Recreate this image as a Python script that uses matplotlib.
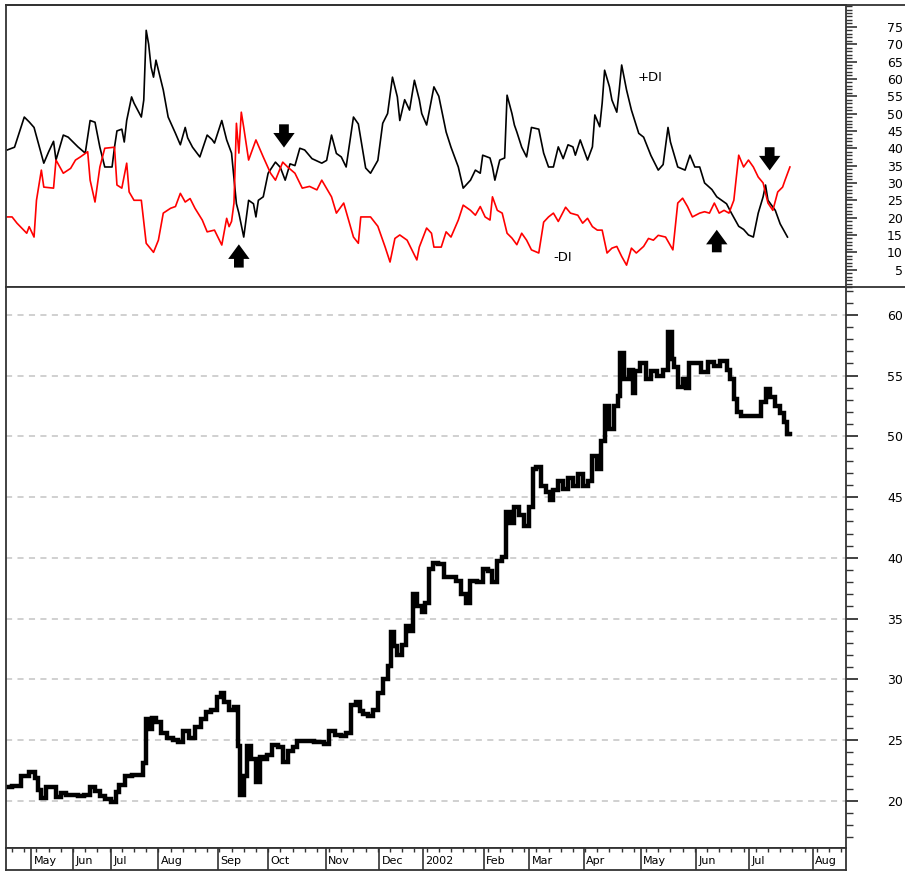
import numpy as np
from matplotlib import pyplot as plt
from matplotlib.lines import Line2D
from matplotlib.ticker import MultipleLocator

# 横轴单位：交易日序号（从图左边缘起）
pdi_t = [0, 3, 7, 9, 11, 15, 17, 19, 20, 23, 25, 29, 32, 34, 36, 38, 40, 43, 44, 45,
         47, 48, 49, 51, 52, 55, 56, 57, 58, 59, 60, 61, 62, 64, 66, 69, 71, 73, 74, 76,
         79, 82, 84, 85, 88, 90, 92, 94, 95, 97, 99, 101, 102, 103, 105, 107, 110, 112, 114, 116,
         118, 120, 122, 125, 129, 131, 133, 135, 137, 139, 142, 144, 147, 149, 152, 154, 156, 158, 160, 161,
         163, 165, 167, 169, 170, 172, 175, 177, 180, 182, 185, 187, 190, 192, 194, 195, 198, 199, 200, 202,
         204, 205, 207, 208, 209, 211, 213, 215, 218, 220, 222, 224, 226, 228, 230, 232, 233, 235, 238, 240,
         241, 243, 244, 245, 247, 248, 250, 251, 252, 254, 256, 259, 261, 264, 267, 269, 271, 272, 275, 278,
         280, 282, 284, 286, 289, 291, 295, 297, 300, 302, 304, 306, 308, 310, 311, 312, 315, 317, 320]
plus_di = [39.5, 40.3, 49, 47.6, 46, 35.7, 39, 42, 36.6, 43.8, 43.2, 40.4, 38.6, 48, 47.5, 40.3, 34.6, 34.6, 40.3, 45,
           45.5, 41.8, 48, 54.8, 53, 49, 53.9, 74, 70, 63.4, 60.5, 65.4, 62.5, 56.8, 49, 44.3, 41, 46, 43, 40.3,
           37.5, 43.8, 42.5, 41.5, 48, 42.4, 38.6, 24, 21.3, 14.4, 25, 24, 20.2, 25, 26, 32.8, 36, 34.5, 30.8, 35.5,
           35, 40, 39.5, 37, 35.7, 36.5, 43.8, 38.5, 37.5, 34.6, 49, 47, 34.3, 32.8, 36.5, 47.2, 50, 60.5, 54.8, 48,
           54, 51, 59.6, 54, 50, 46.7, 57.7, 55, 44.7, 40.3, 34.6, 28.5, 30.8, 33.7, 32.8, 38, 37.2, 34.6, 30.8, 36.6,
           37.2, 55.3, 50, 46.7, 44.7, 40.3, 37.5, 46, 45.5, 38.6, 34.6, 34.6, 40.4, 37, 41, 40.4, 38, 42.4, 36.6, 40.4,
           49.6, 46.2, 53, 62.5, 57.7, 53.9, 50.4, 56.8, 64, 56.8, 51, 44.3, 43.2, 37.9, 33.7, 35.3, 46, 41.8, 34.6, 33.7,
           38, 34.6, 34.6, 30, 28.1, 26, 24, 21.3, 17.5, 16.6, 15, 14.4, 21.3, 26, 29.4, 25, 22.1, 18.2, 14.4]

mdi_t = [0, 2, 4, 8, 9, 11, 12, 14, 15, 19, 20, 23, 26, 28, 30, 33, 34, 36, 38, 40,
         44, 45, 47, 49, 50, 52, 55, 57, 60, 62, 64, 67, 69, 71, 73, 75, 77, 80, 82, 85,
         88, 90, 91, 92, 93, 94, 95, 96, 97, 99, 102, 105, 108, 110, 113, 115, 118, 121, 124, 127,
         129, 133, 135, 138, 140, 142, 144, 145, 149, 152, 155, 157, 159, 161, 164, 168, 169, 172, 174, 175,
         178, 180, 182, 185, 187, 190, 192, 194, 196, 198, 199, 201, 203, 205, 207, 209, 211, 213, 215, 218,
         220, 222, 224, 226, 229, 231, 234, 236, 238, 240, 242, 244, 246, 248, 250, 252, 254, 256, 258, 261,
         263, 265, 267, 270, 273, 275, 277, 279, 281, 284, 286, 288, 290, 292, 294, 296, 298, 300, 302, 304,
         306, 308, 310, 312, 314, 316, 318, 319, 321]
minus_di = [20.2, 20.2, 18.4, 15.5, 17.4, 14.4, 25, 33.7, 28.8, 28.5, 36.6, 32.8, 34.2, 36.6, 37.5, 39, 30.8, 24.5, 34.6, 40,
            40.3, 29.4, 28.5, 35.7, 27.4, 25, 25, 12.6, 10, 13.5, 21.3, 22.7, 23.2, 27, 24.5, 25.5, 22.7, 19.3, 15.9, 16.4,
            12.1, 19.8, 17.4, 18.9, 24.2, 47.2, 38.6, 50.4, 46, 36.6, 42.4, 37.5, 32.8, 30.8, 36, 34.6, 32.8, 28.5, 29, 28,
            30.8, 26, 21.3, 24.2, 19.3, 14.4, 12.6, 20.2, 20.2, 17.5, 11.5, 7.2, 14, 15, 13.5, 7.8, 11.5, 17, 15.5, 11.5,
            11.5, 15.9, 14.4, 19.3, 23.6, 22.1, 20.7, 23.2, 20.2, 19.3, 26, 22.1, 21.3, 15.5, 14.1, 12.2, 15.5, 13.5, 10.7, 9.8,
            18.7, 20.2, 21.3, 18.9, 23, 21.3, 20.7, 18.4, 19.8, 17.4, 16.4, 16.4, 9.8, 11.2, 11.7, 8.8, 6.3, 11.2, 9.8, 11.7,
            14, 13.5, 14.9, 14.4, 10.7, 24.2, 25.6, 23.2, 20.2, 21.3, 21.7, 21.3, 24.2, 21.3, 22.1, 21.3, 25, 38, 34.6, 36.6,
            34.6, 31.7, 30, 24.2, 22.1, 27.4, 28.8, 30.8, 34.6]

price_t = [0, 4, 7, 11, 12, 13, 15, 17, 19, 21, 23, 25, 28, 30, 33, 35, 37, 39, 41, 44,
           45, 47, 50, 52, 55, 56, 58, 59, 60, 62, 64, 67, 69, 71, 73, 76, 78, 81, 82, 85,
           87, 88, 90, 92, 94, 95, 96, 98, 99, 101, 103, 104, 106, 107, 110, 112, 114, 116, 118, 120,
           123, 129, 131, 133, 136, 138, 140, 142, 144, 145, 147, 149, 151, 153, 155, 157, 158, 159, 161, 163,
           164, 166, 167, 169, 171, 172, 174, 175, 178, 180, 183, 185, 187, 189, 191, 194, 196, 198, 200, 202,
           204, 205, 207, 209, 211, 213, 215, 216, 218, 220, 222, 223, 225, 227, 229, 231, 233, 235, 237, 239,
           241, 243, 244, 246, 248, 250, 251, 252, 254, 256, 257, 258, 261, 263, 265, 268, 270, 272, 273, 274,
           276, 278, 279, 280, 283, 286, 289, 291, 294, 296, 297, 299, 300, 302, 305, 308, 310, 312, 314, 316,
           318, 319, 321]
price = [21.1, 21.2, 22, 22.4, 21.9, 20.9, 20.2, 21.1, 21.1, 20.3, 20.6, 20.5, 20.5, 20.4, 20.5, 21.1, 20.8, 20.4, 20.1, 19.9,
         20.7, 21.3, 22, 22.1, 22.1, 23.1, 26.7, 25.9, 26.8, 26.5, 25.6, 25.2, 25, 24.8, 25.7, 25.2, 26.1, 26.7, 27.3, 27.5,
         28.5, 28.9, 28.1, 27.5, 27.7, 24.5, 20.5, 22, 24.5, 23.4, 21.5, 23.6, 23.4, 23.8, 24.6, 24.4, 23.2, 24.1, 24.4, 24.9,
         24.9, 24.8, 24.7, 25.7, 25.4, 25.3, 25.6, 27.9, 28.1, 27.4, 27.1, 27, 27.5, 28.9, 30, 31.1, 33.9, 32.7, 32, 32.8,
         34.4, 34, 37, 36, 35.5, 36.3, 39.1, 39.6, 39.5, 38.4, 38.4, 38.1, 37, 36.3, 38.1, 38, 39.1, 38.9, 38, 39.7,
         40.1, 43.8, 42.9, 44.2, 43.5, 42.6, 44.2, 47.3, 47.5, 45.9, 45.4, 44.8, 45.6, 46.3, 45.7, 46.6, 45.9, 46.9, 45.9, 46.3,
         48.4, 47.3, 49.6, 52.5, 50.6, 52.5, 53.3, 56.9, 54.7, 55.5, 53.6, 55.4, 56, 54.7, 55.4, 55, 55.5, 58.6, 56.4, 55.7,
         54.1, 54.7, 54, 56, 56, 55.3, 56.1, 55.8, 56.2, 55.5, 54.7, 53.1, 52, 51.7, 51.7, 51.7, 52.8, 53.9, 53.2, 52.5,
         51.9, 51.2, 50.2]

month_start = [9.8, 27, 42.6, 61.9, 86.5, 107, 130.7, 152.5, 170.5, 195.5, 214, 236.5, 259.8, 282.4, 304.1, 330.3]
month_names = ["May", "Jun", "Jul", "Aug", "Sep", "Oct", "Nov", "Dec", "2002",
               "Feb", "Mar", "Apr", "May", "Jun", "Jul", "Aug"]

W, H = 905, 877
fig = plt.figure(figsize=(W / 100, H / 100), dpi=100)


def box(l, t, r, b):
    return [l / W, 1 - b / H, (r - l) / W, (b - t) / H]


edge = "#333333"
x_max = 344

# 上：+DI / -DI
ax1 = fig.add_axes(box(6, 5, 846, 287))
ax1.plot(pdi_t, plus_di, color="black", lw=1.2)
ax1.plot(mdi_t, minus_di, color="#ff0000", lw=1.2)
ax1.set_xlim(-0.5, x_max)
ax1.set_ylim(0, 81.3)
ax1.set_xticks([])
ax1.yaxis.tick_right()
ax1.set_yticks(range(5, 80, 5))
ax1.yaxis.set_minor_locator(MultipleLocator(1))
ax1.tick_params(axis="y", which="major", length=8, width=1.2, pad=33, labelsize=9, color=edge)
ax1.tick_params(axis="y", which="minor", length=4.5, width=1, color=edge)
for lbl in ax1.get_yticklabels():
    lbl.set_horizontalalignment("right")
for s in ax1.spines.values():
    s.set_color(edge)
    s.set_linewidth(1.3)

ax1.text(258.6, 60.5, "+DI", fontsize=9.5, va="center")
ax1.text(223.8, 8.6, "-DI", fontsize=9.5, va="center")

arrow = dict(arrowstyle="simple,head_width=1.1,head_length=0.75,tail_width=0.5",
             color="black", lw=0, shrinkA=0, shrinkB=0, mutation_scale=14)
ax1.annotate("", xy=(95, 12.3), xytext=(95, 5.6), arrowprops=arrow)
ax1.annotate("", xy=(113.5, 40.2), xytext=(113.5, 46.9), arrowprops=arrow)
ax1.annotate("", xy=(291, 16.5), xytext=(291, 10.0), arrowprops=arrow)
ax1.annotate("", xy=(312.7, 33.6), xytext=(312.7, 40.3), arrowprops=arrow)

# 下：价格
ax2 = fig.add_axes(box(6, 287, 846, 848))
ax2.plot(price_t, price, color="black", lw=3.2, drawstyle="steps-mid", solid_joinstyle="miter")
ax2.set_xlim(-0.5, x_max)
ax2.set_ylim(16.1, 62.3)
ax2.set_xticks([])
ax2.yaxis.tick_right()
ax2.set_yticks(range(20, 61, 5))
ax2.yaxis.set_minor_locator(MultipleLocator(1))
ax2.tick_params(axis="y", which="major", length=8.5, width=1.3, pad=32.5, labelsize=9, color=edge)
ax2.tick_params(axis="y", which="minor", length=5, width=1, color=edge)
for lbl in ax2.get_yticklabels():
    lbl.set_horizontalalignment("right")
ax2.grid(axis="y", which="major", color="#c4c4c4", linestyle=(0, (4, 3.5)), lw=1.1)
ax2.spines["top"].set_visible(False)
for s in ax2.spines.values():
    s.set_color(edge)
    s.set_linewidth(1.3)

# 月份条
ax3 = fig.add_axes(box(6, 848, 846, 870))
ax3.set_xlim(-0.5, x_max)
ax3.set_ylim(0, 1)
ax3.set_yticks([])
ax3.xaxis.set_ticks_position("top")
ax3.set_xticks(np.arange(2, x_max, 5))
ax3.tick_params(axis="x", direction="in", length=3, width=1, labeltop=False, color=edge)
ax3.vlines(month_start, 0, 1, color=edge, lw=1.2)
for b, name in zip(month_start, month_names):
    ax3.text(b + 1.0, 0.4, name, fontsize=8, va="center", ha="left")
for s in ax3.spines.values():
    s.set_color(edge)
    s.set_linewidth(1.3)

# 上框线延伸到右边
for yy in (5, 287):
    fig.add_artist(Line2D([6 / W, 1], [1 - yy / H, 1 - yy / H], color=edge, lw=1.3))

plt.savefig("out.png", dpi=100)
